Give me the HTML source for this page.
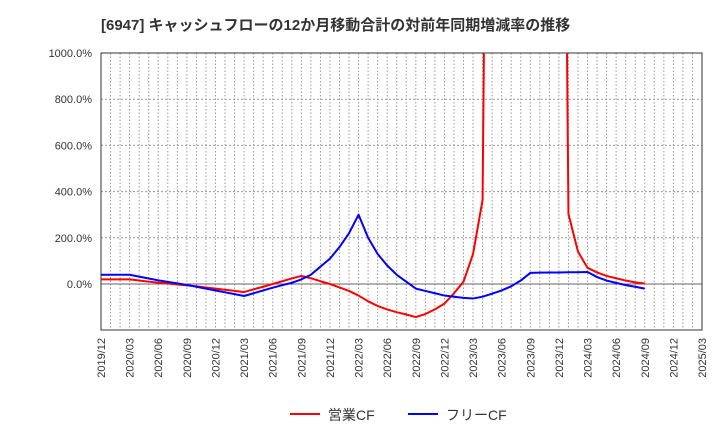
<!DOCTYPE html>
<html><head><meta charset="utf-8"><style>
body{margin:0;background:#fff;}
svg text{font-family:"Liberation Sans","Noto Sans CJK JP",sans-serif;}
</style></head><body>
<svg id="chart" width="720" height="440" xmlns="http://www.w3.org/2000/svg">
<text x="101" y="30" font-size="15" font-weight="bold" fill="#333">[6947]  キャッシュフローの12か月移動合計の対前年同期増減率の推移</text>
<g id="grid"></g><g id="axes"></g><g id="series"></g>
<g>
<line x1="290" y1="414" x2="320" y2="414" stroke="#f00" stroke-width="2"/>
<text x="328" y="420" font-size="14" fill="#333">営業CF</text>
<line x1="408" y1="414" x2="438" y2="414" stroke="#00f" stroke-width="2"/>
<text x="446" y="420" font-size="14" fill="#333">フリーCF</text>
</g>
</svg>
<script>
const tickLabels=["2019/12","2020/03","2020/06","2020/09","2020/12","2021/03","2021/06","2021/09","2021/12","2022/03","2022/06","2022/09","2022/12","2023/03","2023/06","2023/09","2023/12","2024/03","2024/06","2024/09","2024/12","2025/03"];
const yTicks=[0,200,400,600,800,1000];
const operatingCF=[20,20,20,20,15,10,6,2,-2,-6,-10,-15,-20,-25,-30,-35,-23,-12,0,12,24,35,25,12,0,-15,-30,-50,-75,-95,-110,-122,-132,-143,-130,-110,-85,-40,10,130,364,5000,5000,5000,5000,5000,5000,5000,5000,303,140,70,50,35,25,15,7,2];
const freeCF=[40,40,40,40,32,24,16,9,3,-4,-12,-20,-28,-36,-44,-52,-40,-28,-16,-5,5,20,40,75,110,160,220,300,200,130,80,40,10,-20,-30,-40,-50,-55,-60,-63,-55,-42,-28,-10,15,48,49,50,50,51,51,52,30,15,5,-5,-12,-20];
const NS="http://www.w3.org/2000/svg";
const X0=101,X1=702,Y0=53,Y1=330,nMonths=63;
const xs=i=>X0+(X1-X0)*i/nMonths;
const ys=v=>284-v*231/1000;
function mk(tag,attrs,parent){const e=document.createElementNS(NS,tag);for(const k in attrs)e.setAttribute(k,attrs[k]);parent.appendChild(e);return e;}
const grid=document.getElementById('grid'),axes=document.getElementById('axes'),series=document.getElementById('series');
for(let i=1;i<nMonths;i++){const l=mk('line',{x1:xs(i),x2:xs(i),y1:Y0,y2:Y1,stroke:'#999','stroke-dasharray':'1.5,2','stroke-width':1},grid);

}
yTicks.forEach(v=>{const y=ys(v);
const l=mk('line',{x1:X0,x2:X1,y1:y,y2:y,stroke:v===0?'#666':'#999','stroke-dasharray':v===0?'':'2,2','stroke-width':1},grid);


const t=mk('text',{x:92,y:y+4,'font-size':11,'text-anchor':'end',fill:'#333'},axes);t.textContent=v.toFixed(1)+'%';

});
tickLabels.forEach((s,i)=>{const x=xs(i*3);
const t=mk('text',{x:0,y:0,'font-size':11,'text-anchor':'end',fill:'#333',transform:`translate(${x+4},338) rotate(-90)`},axes);t.textContent=s;

});
const fr=mk('rect',{x:X0,y:Y0,width:X1-X0,height:Y1-Y0,fill:'none',stroke:'#333','stroke-width':1},axes);


const defs=mk('defs',{},series);const cp=mk('clipPath',{id:'clip'},defs);mk('rect',{x:X0,y:Y0,width:X1-X0,height:Y1-Y0},cp);
function line(data,color,name){const p=mk('polyline',{points:data.map((v,i)=>xs(i)+','+ys(v)).join(' '),fill:'none',stroke:color,'stroke-width':2,'clip-path':'url(#clip)','stroke-linejoin':'round'},series);

}
line(operatingCF,'#f00','operating-cf-line');
line(freeCF,'#00f','free-cf-line');
</script>
</body></html>
